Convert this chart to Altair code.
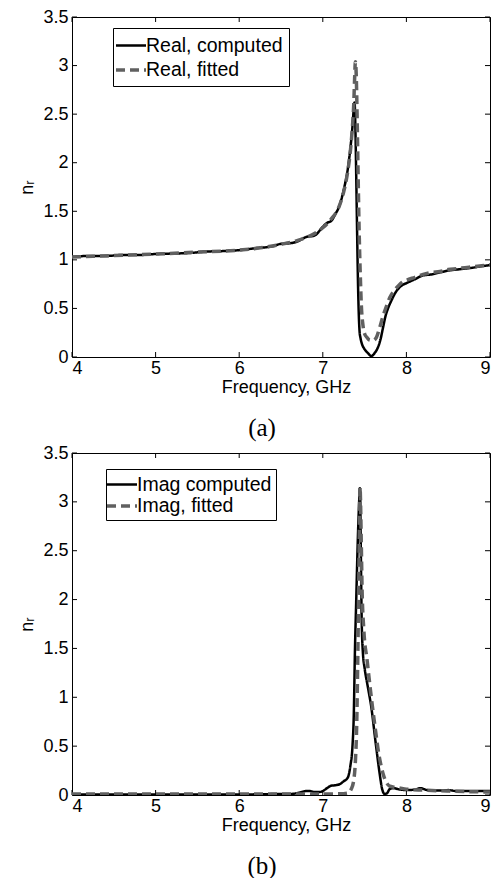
import altair as alt
import pandas as pd

# ---------------- data ----------------
series_a = ["Real, computed", "Real, fitted"]
series_b = ["Imag computed", "Imag, fitted"]

a_comp_f = [4.0, 4.2, 4.4, 4.6, 4.8, 5.0, 5.2, 5.4, 5.6, 5.8, 6.0, 6.2, 6.4, 6.5, 6.6, 6.7,
            6.8, 6.9, 7.0, 7.05, 7.1, 7.15, 7.2, 7.25, 7.3, 7.33, 7.35, 7.37, 7.38, 7.39,
            7.40, 7.41, 7.42, 7.43, 7.44, 7.45, 7.47, 7.50, 7.54, 7.58, 7.62, 7.66, 7.69,
            7.72, 7.75, 7.78, 7.82, 7.86, 7.9, 7.95, 8.0, 8.1, 8.2, 8.3, 8.4, 8.5, 8.6,
            8.7, 8.8, 8.9, 9.0]
a_comp_v = [1.03, 1.04, 1.04, 1.05, 1.05, 1.06, 1.065, 1.07, 1.085, 1.09, 1.10, 1.12, 1.14,
            1.165, 1.17, 1.19, 1.235, 1.25, 1.34, 1.38, 1.40, 1.47, 1.56, 1.72, 1.94, 2.15,
            2.32, 2.55, 2.62, 2.35, 1.85, 1.3, 0.8, 0.45, 0.26, 0.2, 0.13, 0.08, 0.04, 0.01,
            0.04, 0.1, 0.18, 0.3, 0.42, 0.5, 0.58, 0.65, 0.7, 0.74, 0.76, 0.8, 0.84, 0.85,
            0.87, 0.89, 0.9, 0.91, 0.92, 0.935, 0.945]

a_fit_f = [4.0, 4.5, 5.0, 5.5, 6.0, 6.3, 6.5, 6.7, 6.8, 6.9, 7.0, 7.1, 7.2, 7.25, 7.3, 7.33,
           7.35, 7.37, 7.38, 7.39, 7.40, 7.41, 7.42, 7.43, 7.44, 7.45, 7.46, 7.48, 7.50,
           7.53, 7.56, 7.6, 7.64, 7.68, 7.72, 7.76, 7.8, 7.85, 7.9, 7.95, 8.0, 8.1, 8.2,
           8.3, 8.4, 8.5, 8.6, 8.7, 8.8, 8.9, 9.0]
a_fit_v = [1.03, 1.045, 1.06, 1.08, 1.10, 1.13, 1.16, 1.2, 1.23, 1.27, 1.33, 1.42, 1.56,
           1.70, 1.92, 2.12, 2.32, 2.6, 2.85, 3.04, 2.9, 2.5, 2.0, 1.5, 1.1, 0.8, 0.55,
           0.33, 0.24, 0.2, 0.175, 0.17, 0.2, 0.3, 0.42, 0.52, 0.61, 0.68, 0.73, 0.77,
           0.79, 0.82, 0.85, 0.87, 0.88, 0.9, 0.91, 0.92, 0.93, 0.94, 0.95]

b_comp_f = [4.0, 4.5, 5.0, 5.5, 6.0, 6.3, 6.5, 6.6, 6.7, 6.8, 6.85, 6.9, 6.95, 7.0, 7.05,
            7.1, 7.15, 7.2, 7.25, 7.3, 7.33, 7.355, 7.37, 7.385, 7.40, 7.415, 7.43, 7.445,
            7.455, 7.465, 7.48, 7.5, 7.54, 7.58, 7.63, 7.68, 7.71, 7.74, 7.77, 7.8, 7.85,
            7.9, 8.0, 8.1, 8.17, 8.25, 8.4, 8.5, 8.6, 8.8, 9.0]
b_comp_v = [0.005, 0.005, 0.005, 0.005, 0.005, 0.008, 0.01, 0.01, 0.02, 0.04, 0.04, 0.03,
            0.03, 0.04, 0.07, 0.095, 0.10, 0.11, 0.14, 0.18, 0.3, 0.5, 0.8, 1.5, 2.0, 2.5,
            2.9, 3.14, 2.5, 1.8, 1.45, 1.3, 1.1, 0.9, 0.55, 0.22, 0.06, 0.01, 0.02, 0.06,
            0.07, 0.06, 0.05, 0.055, 0.07, 0.05, 0.045, 0.05, 0.04, 0.04, 0.04]

b_fit_f = [4.0, 5.0, 6.0, 7.0, 7.2, 7.3, 7.34, 7.37, 7.39, 7.405, 7.42, 7.435, 7.445, 7.46,
           7.47, 7.49, 7.53, 7.58, 7.62, 7.67, 7.72, 7.76, 7.8, 7.85, 7.9, 8.0, 8.2, 8.5,
           9.0]
b_fit_v = [0.01, 0.01, 0.01, 0.01, 0.012, 0.02, 0.06, 0.15, 0.35, 0.7, 1.5, 2.5, 3.15, 2.6,
           2.1, 1.7, 1.38, 1.0, 0.73, 0.42, 0.22, 0.13, 0.09, 0.08, 0.075, 0.06, 0.05,
           0.04, 0.03]

x_ticks = [4, 5, 6, 7, 8, 9]
y_ticks = [0, 0.5, 1, 1.5, 2, 2.5, 3, 3.5]

# ---------------- layout constants ----------------
W = 418
H_A = 340
H_B = 342
TICK = 5
FONT = "Liberation Sans"
GRAY = "#606060"
LEG_SYMBOL = "M-1.5,0H1.5"


def make_df(fc, vc, ff, vf, names):
    d1 = pd.DataFrame({"f": fc, "v": vc, "s": names[0]})
    d2 = pd.DataFrame({"f": ff, "v": vf, "s": names[1]})
    return pd.concat([d1, d2], ignore_index=True)


def panel(df, names, H, caption, lx, ly, lpad, lrow):
    xs = alt.Scale(domain=[4, 9], nice=False, zero=False)
    ys = alt.Scale(domain=[0, 3.5], nice=False, zero=False)
    lines = alt.Chart(df).mark_line(interpolate="monotone", clip=True).encode(
        x=alt.X("f:Q", scale=xs,
                axis=alt.Axis(values=x_ticks, format="d", title="Frequency, GHz",
                              grid=False, ticks=False, domain=False,
                              labelPadding=2, titlePadding=1, titleX=214)),
        y=alt.Y("v:Q", scale=ys,
                axis=alt.Axis(values=y_ticks, format="~g", title="nᵣ",
                              grid=False, ticks=False, domain=False,
                              labelPadding=4, titlePadding=6)),
        color=alt.Color("s:N", title=None,
                        scale=alt.Scale(domain=names, range=["black", GRAY]),
                        legend=alt.Legend(orient="none", legendX=lx, legendY=ly,
                                          symbolType=LEG_SYMBOL, symbolSize=400,
                                          symbolStrokeWidth=3, labelFont=FONT,
                                          labelFontSize=19.5, labelColor="black",
                                          labelOffset=3, padding=lpad,
                                          rowPadding=lrow, strokeColor="black",
                                          fillColor="white")),
        strokeDash=alt.StrokeDash("s:N", title=None,
                                  scale=alt.Scale(domain=names, range=[[1, 0], [9, 5]])),
        strokeWidth=alt.StrokeWidth("s:O", title=None,
                                    scale=alt.Scale(domain=names, range=[2.5, 3.5])),
        order=alt.Order("f:Q"),
    )
    xt = pd.DataFrame({"t": x_ticks})
    yt = pd.DataFrame({"t": y_ticks})
    bot = alt.Chart(xt).mark_rule(color="black", strokeWidth=1).encode(
        x=alt.X("t:Q", scale=xs), y=alt.value(H), y2=alt.value(H - TICK))
    top = alt.Chart(xt).mark_rule(color="black", strokeWidth=1).encode(
        x=alt.X("t:Q", scale=xs), y=alt.value(0), y2=alt.value(TICK))
    left = alt.Chart(yt).mark_rule(color="black", strokeWidth=1).encode(
        y=alt.Y("t:Q", scale=ys), x=alt.value(0), x2=alt.value(TICK))
    right = alt.Chart(yt).mark_rule(color="black", strokeWidth=1).encode(
        y=alt.Y("t:Q", scale=ys), x=alt.value(W - TICK), x2=alt.value(W))
    return alt.layer(bot, top, left, right, lines).properties(
        width=W, height=H,
        title=alt.TitleParams(caption, orient="bottom", font="Liberation Serif",
                              fontSize=25, fontWeight="normal", color="black",
                              anchor="middle", dx=-19, offset=20),
    )


df_a = make_df(a_comp_f, a_comp_v, a_fit_f, a_fit_v, series_a)
df_b = make_df(b_comp_f, b_comp_v, b_fit_f, b_fit_v, series_b)

pa = panel(df_a, series_a, H_A, "(a)", 41, 11, 6, 3)
pb = panel(df_b, series_b, H_B, "(b)", 34, 16, 4, 0)

chart = alt.vconcat(pa, pb, spacing=1).resolve_scale(
    color="independent", strokeDash="independent", strokeWidth="independent"
).resolve_legend(
    color="independent", strokeDash="independent", strokeWidth="independent"
).properties(
    padding={"left": 10, "top": -1, "right": 0, "bottom": 0},
    background="white",
).configure_view(
    stroke="black", strokeWidth=1
).configure_axis(
    labelFont=FONT, labelFontSize=18, labelColor="black",
    titleFont=FONT, titleFontSize=18, titleColor="black", titleFontWeight="normal"
)

chart.save("out.html", embed_options={"renderer": "svg", "actions": False})
